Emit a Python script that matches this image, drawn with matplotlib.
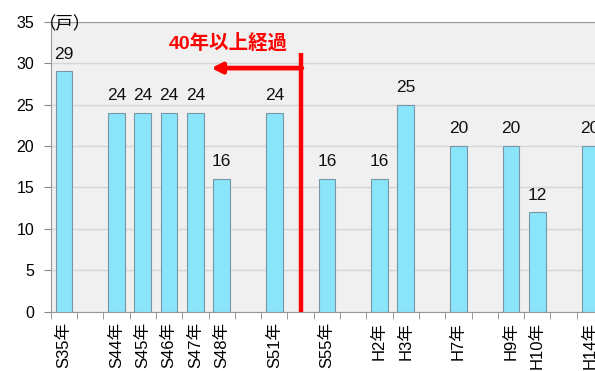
import matplotlib
matplotlib.use('Agg')
import matplotlib.pyplot as plt

plt.rcParams['font.family'] = ['Liberation Sans', 'Noto Sans CJK JP', 'DejaVu Sans']

# slots along the x axis (empty string = no bar in that slot)
categories = ['S35年', '', 'S44年', 'S45年', 'S46年', 'S47年', 'S48年', '', 'S51年', '',
              'S55年', '', 'H2年', 'H3年', '', 'H7年', '', 'H9年', 'H10年', '', 'H14年']
values = [29, None, 24, 24, 24, 24, 16, None, 24, None,
          16, None, 16, 25, None, 20, None, 20, 12, None, 20]

xs = [i for i, v in enumerate(values) if v is not None]
vs = [v for v in values if v is not None]
labels = [categories[i] for i in xs]

fig = plt.figure(figsize=(5.95, 3.71), dpi=100)
ax = fig.add_axes([0.0852, 0.1598, 0.9725, 0.7817])
ax.set_facecolor('#f0f0f0')

ax.bar(xs, vs, width=0.63, color='#8ae4fa', edgecolor='#7a95a5', linewidth=0.8, zorder=3)
for x, v in zip(xs, vs):
    ax.annotate(str(v), (x, v), xytext=(0, 7), textcoords='offset points',
                ha='center', va='bottom', fontsize=12.5, color='#111111')

ax.set_xlim(-0.5, 21.5)
ax.set_ylim(0, 35)
ax.set_yticks(range(0, 36, 5))
ax.grid(axis='y', color='#d6d6d6', linewidth=1, zorder=0)
ax.set_axisbelow(True)

ax.set_xticks(xs)
ax.set_xticklabels(labels, rotation=90, fontsize=12, va='top')
ax.set_xticks([i - 0.5 for i in range(len(categories) + 1)], minor=True)
ax.tick_params(axis='x', which='major', length=0, pad=7.5)
ax.tick_params(axis='x', which='minor', length=5, color='#888888')
ax.tick_params(axis='y', length=5, color='#888888', labelsize=11.5, pad=7)

for s in ax.spines.values():
    s.set_color('#999999')
ax.spines['right'].set_visible(False)

ax.text(0.06, 34.75, '（戸）', ha='center', va='center', fontsize=12.5)

# 40-year marker
ax.plot([9, 9], [0, 31.25], color='red', lw=3.2, zorder=4, solid_capstyle='butt')
ax.annotate('', xy=(5.6, 29.4), xytext=(9.05, 29.4),
            arrowprops=dict(arrowstyle='-|>', color='red', lw=3.4, mutation_scale=15,
                            shrinkA=0, shrinkB=0), zorder=4)
ax.text(6.24, 32.45, '40年以上経過', color='red', fontsize=14, fontweight='bold',
        ha='center', va='center')

fig.savefig('out.png', dpi=100)
